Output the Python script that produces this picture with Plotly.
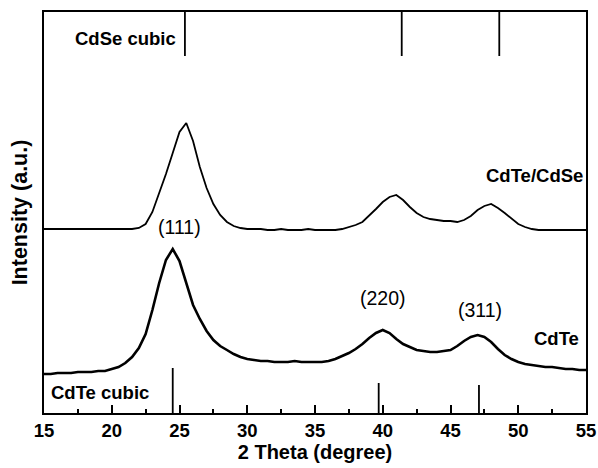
import plotly.graph_objects as go

# ---------------- data ----------------
two_theta = [15.0, 15.5, 16.0, 16.5, 17.0, 17.5, 18.0, 18.5, 19.0, 19.5,
             20.0, 20.5, 21.0, 21.5, 22.0, 22.5, 23.0, 23.5, 24.0, 24.5,
             25.0, 25.5, 26.0, 26.5, 27.0, 27.5, 28.0, 28.5, 29.0, 29.5,
             30.0, 30.5, 31.0, 31.5, 32.0, 32.5, 33.0, 33.5, 34.0, 34.5,
             35.0, 35.5, 36.0, 36.5, 37.0, 37.5, 38.0, 38.5, 39.0, 39.5,
             40.0, 40.5, 41.0, 41.5, 42.0, 42.5, 43.0, 43.5, 44.0, 44.5,
             45.0, 45.5, 46.0, 46.5, 47.0, 47.5, 48.0, 48.5, 49.0, 49.5,
             50.0, 50.5, 51.0, 51.5, 52.0, 52.5, 53.0, 53.5, 54.0, 54.5,
             55.0]

cdte_cdse = [184, 184, 184, 184, 184, 184, 184, 184, 184, 184,
             184, 184, 184, 184, 185, 189, 201, 219, 239, 260,
             281, 290, 272, 246, 225, 209, 198, 191, 187, 185,
             184, 184, 184, 183, 183, 184, 183, 183, 183, 184,
             183, 183, 183, 183, 184, 186, 188, 191, 197, 204,
             211, 216, 218, 213, 206, 200, 196, 194, 193, 192,
             192, 191, 193, 197, 203, 207, 209, 205, 200, 194,
             189, 186, 184, 183, 183, 183, 183, 183, 183, 183,
             183]

cdte = [39, 39, 40, 40, 40, 41, 41, 41, 42, 42,
        44, 46, 50, 56, 65, 79, 103, 130, 153, 164,
        152, 131, 108, 94, 82, 73, 67, 63, 59, 56,
        54, 53, 52, 52, 51, 51, 51, 52, 51, 51,
        51, 51, 52, 54, 57, 60, 64, 69, 75, 80,
        83, 80, 74, 69, 66, 63, 62, 61, 61, 62,
        63, 67, 72, 76, 78, 76, 71, 64, 58, 54,
        51, 49, 48, 47, 46, 46, 45, 44, 44, 43,
        43]

x_tick_vals = [15, 20, 25, 30, 35, 40, 45, 50, 55]
x_tick_text = ["15", "20", "25", "30", "35", "40", "45", "50", "55"]

cdse_ref_pos = [25.4, 41.4, 48.6]
cdse_ref_top = 401
cdse_ref_bottom = 357

cdte_ref_pos = [24.5, 39.7, 47.1]
cdte_ref_height = [45, 30, 28]

peak_labels = ["(111)", "(220)", "(311)"]
peak_label_x = [25.0, 40.0, 47.2]
peak_label_y = [186, 115, 103]

assert len(two_theta) == len(cdte_cdse) == len(cdte)

FONT = "Liberation Sans, Arial, sans-serif"

fig = go.Figure()

fig.add_trace(go.Scatter(x=two_theta, y=cdte_cdse, mode="lines",
                         line=dict(color="black", width=1.8), showlegend=False))
fig.add_trace(go.Scatter(x=two_theta, y=cdte, mode="lines",
                         line=dict(color="black", width=2.6), showlegend=False))

# reference stick lines
xs, ys = [], []
for p in cdse_ref_pos:
    xs += [p, p, None]
    ys += [cdse_ref_top, cdse_ref_bottom, None]
fig.add_trace(go.Scatter(x=xs, y=ys, mode="lines",
                         line=dict(color="black", width=1.8), showlegend=False))
xs, ys = [], []
for p, h in zip(cdte_ref_pos, cdte_ref_height):
    xs += [p, p, None]
    ys += [0, h, None]
fig.add_trace(go.Scatter(x=xs, y=ys, mode="lines",
                         line=dict(color="black", width=1.8), showlegend=False))

bold = dict(size=18.5, family=FONT, color="black", weight="bold")
annotations = [
    dict(x=21.0, y=375, text="<b>CdSe cubic</b>", showarrow=False, font=bold),
    dict(x=54.9, y=238, text="<b>CdTe/CdSe</b>", showarrow=False, xanchor="right", font=bold),
    dict(x=54.6, y=75, text="<b>CdTe</b>", showarrow=False, xanchor="right", font=bold),
    dict(x=19.1, y=21, text="<b>CdTe cubic</b>", showarrow=False, font=bold),
]
for t, x, y in zip(peak_labels, peak_label_x, peak_label_y):
    annotations.append(dict(x=x, y=y, text=t, showarrow=False,
                            font=dict(size=19.5, family=FONT, color="black")))

fig.update_layout(
    width=598, height=468,
    margin=dict(l=44, r=12, t=12, b=55),
    paper_bgcolor="white", plot_bgcolor="white",
    font=dict(family=FONT, color="black"),
    annotations=annotations,
    xaxis=dict(range=[15, 55], tickmode="array", tickvals=x_tick_vals,
               ticktext=["<b>" + t + "</b>" for t in x_tick_text],
               ticks="inside", ticklen=8, tickwidth=2, tickcolor="black",
               minor=dict(dtick=2.5, tick0=15, ticks="inside", ticklen=4,
                          tickwidth=2, tickcolor="black", showgrid=False),
               showline=True, linewidth=2, linecolor="black", mirror=True,
               showgrid=False, zeroline=False,
               tickfont=dict(size=18.5, family=FONT, color="black", weight=900),
               ticklabelstandoff=0,
               title=dict(text="<b>2 Theta (degree)</b>", standoff=4,
                          font=dict(size=20, family=FONT, color="black")),
               automargin=False),
    yaxis=dict(range=[0, 401], showticklabels=False, ticks="",
               showline=True, linewidth=2, linecolor="black", mirror=True,
               showgrid=False, zeroline=False,
               title=dict(text="<b>Intensity (a.u.)</b>", standoff=8,
                          font=dict(size=21.5, family=FONT, color="black")),
               automargin=False),
)

fig.write_html("out.html")
